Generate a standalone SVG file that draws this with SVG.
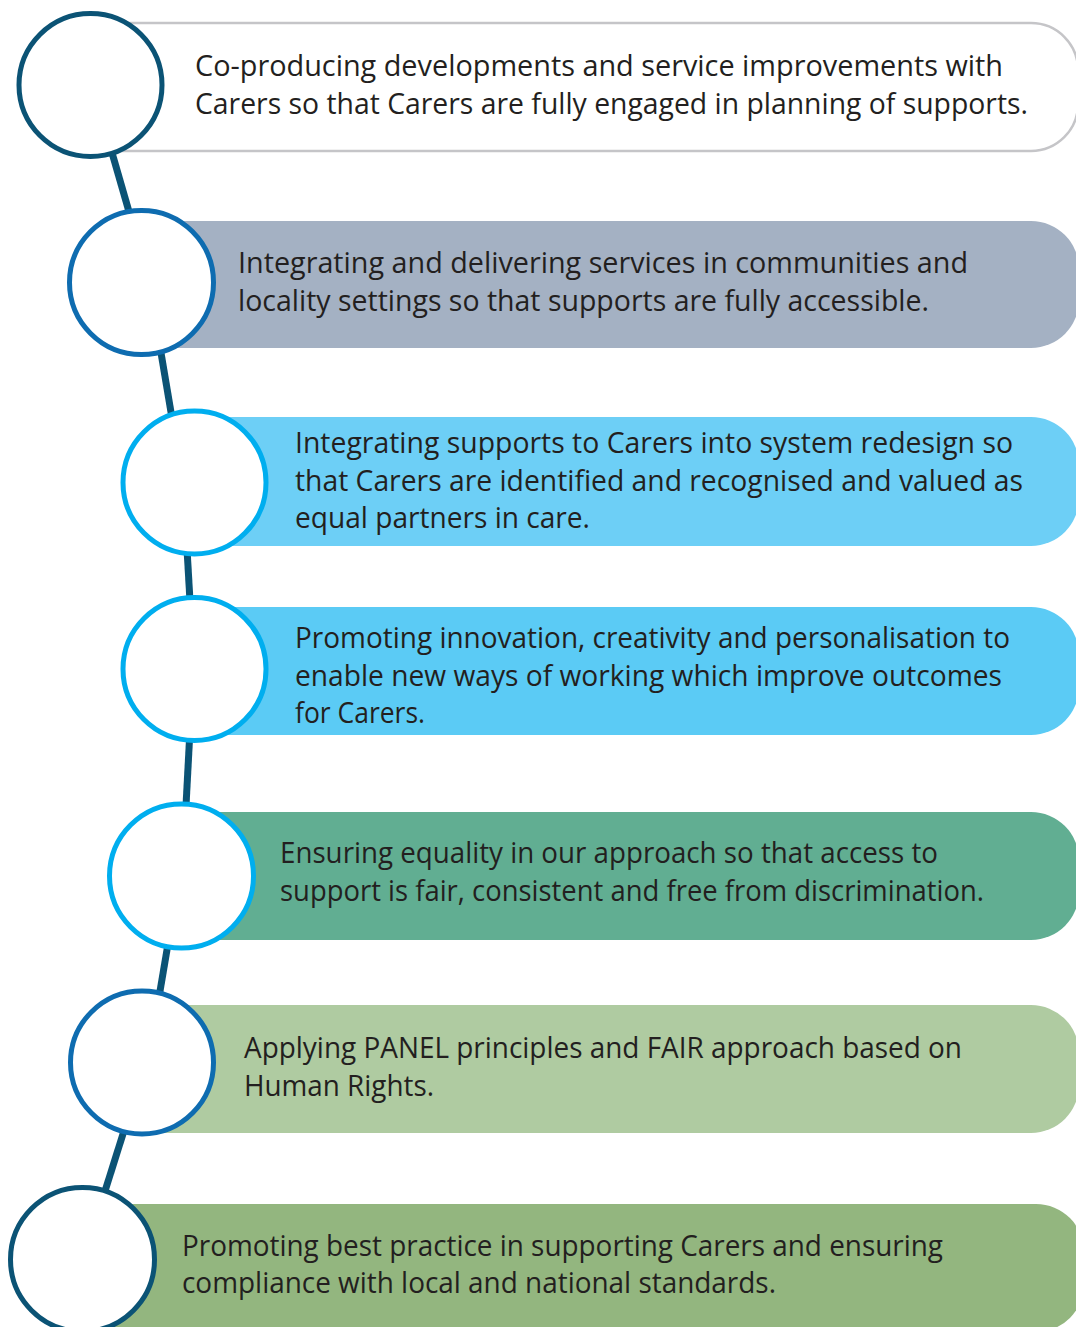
<svg xmlns="http://www.w3.org/2000/svg" width="1076" height="1327" viewBox="0 0 1076 1327">
<style>
.txt{font-family:"Open Sans","Liberation Sans",sans-serif;font-size:30px;fill:#231f20}
.ring{fill:#fff;stroke-width:5}
.dark{stroke:#0b5375}
.mid{stroke:#0e6cb0}
.cyan{stroke:#00aeef}
.conn{stroke:#0b5375;stroke-width:7;fill:none}
</style>
<rect width="1076" height="1327" fill="#fff"/>
<g id="connectors">
<line class="conn" x1="104" y1="125" x2="134" y2="229"/>
<line class="conn" x1="158" y1="335" x2="174" y2="430"/>
<line class="conn" x1="186.5" y1="540" x2="190.5" y2="610"/>
<line class="conn" x1="190" y1="730" x2="185.5" y2="815"/>
<line class="conn" x1="169.5" y1="935" x2="158.5" y2="1000"/>
<line class="conn" x1="128" y1="1118" x2="100" y2="1207"/>
</g>
<g id="node1">
<path d="M90,23 H1031 A47,47 0 0 1 1078,70 V104 A47,47 0 0 1 1031,151 H90 Z" fill="#fff" stroke="#c5c5c8" stroke-width="2.5"/>
<circle class="ring dark" cx="90.5" cy="85" r="71.5"/>
<text class="txt" x="195" y="76" textLength="808" lengthAdjust="spacingAndGlyphs">Co-producing developments and service improvements with</text>
<text class="txt" x="195" y="114" textLength="833" lengthAdjust="spacingAndGlyphs">Carers so that Carers are fully engaged in planning of supports.</text>
</g>
<g id="node2">
<path d="M141,221 H1031 A48,48 0 0 1 1079,269 V300 A48,48 0 0 1 1031,348 H141 Z" fill="#a4b1c3"/>
<circle class="ring mid" cx="141.5" cy="282.5" r="72"/>
<text class="txt" x="238" y="273" textLength="730" lengthAdjust="spacingAndGlyphs">Integrating and delivering services in communities and</text>
<text class="txt" x="238" y="311" textLength="691" lengthAdjust="spacingAndGlyphs">locality settings so that supports are fully accessible.</text>
</g>
<g id="node3">
<path d="M194,417 H1031 A48,48 0 0 1 1079,465 V498 A48,48 0 0 1 1031,546 H194 Z" fill="#6dcff6"/>
<circle class="ring cyan" cx="194.5" cy="482.5" r="71.5"/>
<text class="txt" x="295" y="453" textLength="718" lengthAdjust="spacingAndGlyphs">Integrating supports to Carers into system redesign so</text>
<text class="txt" x="295" y="491" textLength="728" lengthAdjust="spacingAndGlyphs">that Carers are identified and recognised and valued as</text>
<text class="txt" x="295" y="528" textLength="295" lengthAdjust="spacingAndGlyphs">equal partners in care.</text>
</g>
<g id="node4">
<path d="M194,607 H1031 A48,48 0 0 1 1079,655 V687 A48,48 0 0 1 1031,735 H194 Z" fill="#5bcbf5"/>
<circle class="ring cyan" cx="194.5" cy="669" r="71.5"/>
<text class="txt" x="295" y="648" textLength="715" lengthAdjust="spacingAndGlyphs">Promoting innovation, creativity and personalisation to</text>
<text class="txt" x="295" y="686" textLength="707" lengthAdjust="spacingAndGlyphs">enable new ways of working which improve outcomes</text>
<text class="txt" x="295" y="723" textLength="130" lengthAdjust="spacingAndGlyphs">for Carers.</text>
</g>
<g id="node5">
<path d="M181,812 H1031 A48,48 0 0 1 1079,860 V892 A48,48 0 0 1 1031,940 H181 Z" fill="#61ae92"/>
<circle class="ring cyan" cx="181.5" cy="876" r="72"/>
<text class="txt" x="280" y="863" textLength="658" lengthAdjust="spacingAndGlyphs">Ensuring equality in our approach so that access to</text>
<text class="txt" x="280" y="901" textLength="704" lengthAdjust="spacingAndGlyphs">support is fair, consistent and free from discrimination.</text>
</g>
<g id="node6">
<path d="M142,1005 H1031 A48,48 0 0 1 1079,1053 V1085 A48,48 0 0 1 1031,1133 H142 Z" fill="#afcba1"/>
<circle class="ring mid" cx="142" cy="1062.5" r="71.5"/>
<text class="txt" x="244" y="1058" textLength="718" lengthAdjust="spacingAndGlyphs">Applying PANEL principles and FAIR approach based on</text>
<text class="txt" x="244" y="1096" textLength="190" lengthAdjust="spacingAndGlyphs">Human Rights.</text>
</g>
<g id="node7">
<path d="M82,1204 H1036 A48,48 0 0 1 1084,1252 V1284 A48,48 0 0 1 1036,1332 H82 Z" fill="#93b67f"/>
<circle class="ring dark" cx="82.5" cy="1259.5" r="72"/>
<text class="txt" x="182" y="1256" textLength="761" lengthAdjust="spacingAndGlyphs">Promoting best practice in supporting Carers and ensuring</text>
<text class="txt" x="182" y="1293" textLength="594" lengthAdjust="spacingAndGlyphs">compliance with local and national standards.</text>
</g>
</svg>
